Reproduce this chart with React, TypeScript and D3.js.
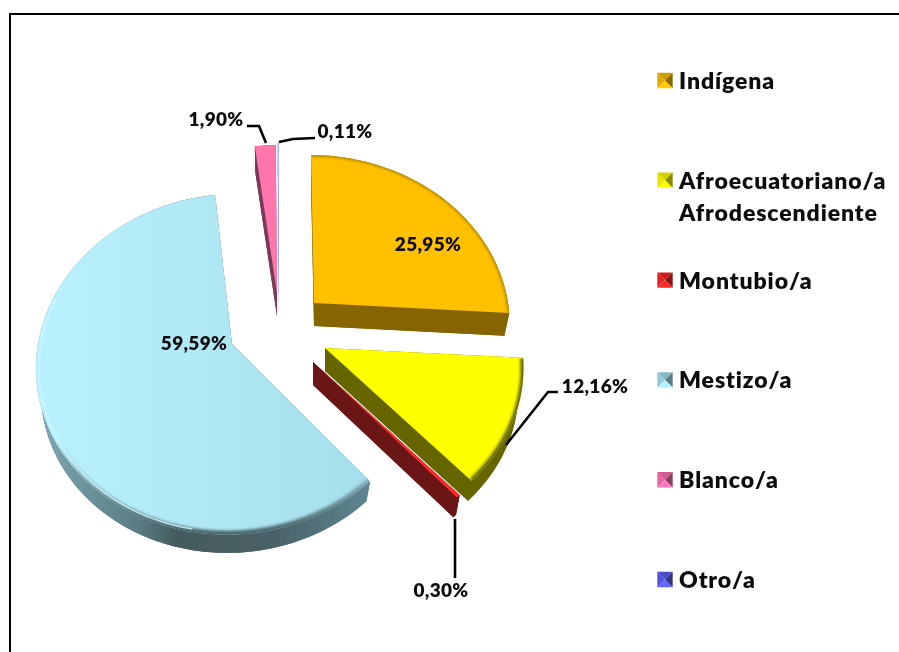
import React from "react";
import * as d3 from "d3";

const categories = ["Indígena", "Afroecuatoriano/a|Afrodescendiente", "Montubio/a", "Mestizo/a", "Blanco/a", "Otro/a"];
const shares = [25.95, 12.16, 0.3, 59.59, 1.9, 0.11];
const shareLabels = ["25,95%", "12,16%", "0,30%", "59,59%", "1,90%", "0,11%"];
const topColors = ["#ffc000", "#ffff00", "#ff2a2a", "#b2eaf7", "#ff74ac", "#b4b4ff"];
const wallColors = ["#866500", "#666600", "#6b1414", "#4c666c", "#7a3a58", "#6060a0"];
const keyColors = ["#d9a300", "#dddd00", "#d92020", "#8fc4cf", "#e0609a", "#5050d0"];

// exploded slice centres and per-slice perspective corrections (layout)
const centerX = [314, 325, 313, 232, 277, 279];
const centerY = [303, 348, 362, 344, 293, 290];
const xScale = [0.985, 1, 1, 0.985, 1, 1];
const yScale = [1, 1, 1, 1.015, 1, 1];
const lean = [3, 0, 0, -5, 0, 0];
const labelX = [428, 595, 441, 194, 216, 345];
const labelY = [251, 393, 597, 350, 126, 138];
const leaders: ([number, number][] | null)[] = [
  null,
  [[506, 445], [548, 392], [558, 392]],
  [[455, 519], [455, 578]],
  null,
  [[247, 126], [259, 126], [266, 143]],
  [[279, 142], [293, 139], [315, 138]],
];

const R = 197, TILT = 0.84, PERSP = 0.119, DEPTH = 23, BOTTOM_SCALE = 0.975;

const project = (i: number, a: number, r = R, dz = 0): [number, number] => {
  const u = Math.sin(a), v = -Math.cos(a);
  const s = 1 / (1 - PERSP * v);
  return [
    centerX[i] + r * xScale[i] * u * s + lean[i] * v,
    centerY[i] + r * yScale[i] * TILT * v * s + dz,
  ];
};

const pie = d3.pie<number>().sort(null).value((d) => d);
const arcs = pie(shares);
const lineGen = d3.line();
const closed = (pts: [number, number][]) => (lineGen(pts) ?? "") + "Z";
const angles = (a0: number, a1: number) => [...d3.range(a0, a1, Math.PI / 180), a1];

const legendY = d3.scalePoint<number>().domain(d3.range(categories.length)).range([80.5, 579.5]);

function Key({ i }: { i: number }) {
  const y = legendY(i)!;
  const s = 7.7, x = 665;
  const c = d3.color(keyColors[i])!;
  const faces: [string, [number, number][]][] = [
    [c.darker(0.15).formatHex(), [[x - s, y - s], [x + s, y - s], [x, y]]],
    [c.brighter(0.1).formatHex(), [[x - s, y - s], [x - s, y + s], [x, y]]],
    [c.darker(1.3).formatHex(), [[x + s, y - s], [x + s, y + s], [x, y]]],
    [c.brighter(0.6).formatHex(), [[x - s, y + s], [x + s, y + s], [x, y]]],
  ];
  return <g>{faces.map(([f, p], k) => <path key={k} d={closed(p)} fill={f} />)}</g>;
}

export default function App() {
  return (
    <svg width={899} height={652} style={{ position: "fixed", left: 0, top: 0, background: "#fff" }}>
      <defs>
        <filter id="soft" x="-5%" y="-5%" width="110%" height="110%"><feGaussianBlur stdDeviation="0.45" /></filter>
        <filter id="bevel" x="-10%" y="-10%" width="120%" height="120%"><feGaussianBlur stdDeviation="1.6" /></filter>
        <linearGradient id="mestizoTop" gradientUnits="userSpaceOnUse" x1="60" y1="350" x2="370" y2="350">
          <stop offset="0" stopColor="#b9f0fd" /><stop offset="1" stopColor="#a6deeb" />
        </linearGradient>
        <linearGradient id="mestizoWall" gradientUnits="userSpaceOnUse" x1="36" y1="0" x2="372" y2="0">
          <stop offset="0" stopColor="#7fa9b4" /><stop offset="0.3" stopColor="#5b7c84" />
          <stop offset="0.42" stopColor="#445a5e" /><stop offset="0.72" stopColor="#4a6268" /><stop offset="1" stopColor="#5f8794" />
        </linearGradient>
        <linearGradient id="mestizoBevel" gradientUnits="userSpaceOnUse" x1="0" y1="440" x2="0" y2="530">
          <stop offset="0" stopColor="#4c666c" stopOpacity="0" /><stop offset="1" stopColor="#4c666c" stopOpacity="1" />
        </linearGradient>
        {arcs.map((d, i) => {
          const rim = angles(d.startAngle, d.endAngle).map((a) => project(i, a));
          return <clipPath key={i} id={`top${i}`}><path d={closed([[centerX[i], centerY[i]], ...rim])} /></clipPath>;
        })}
      </defs>

      <g filter="url(#soft)">
        <path d="M10 652V14H899" fill="none" stroke="#000" strokeWidth={2} />
        {arcs.map((d, i) => {
          const as = angles(d.startAngle, d.endAngle);
          const topRim = as.map((a) => project(i, a));
          const botRim = as.map((a) => project(i, a, R * BOTTOM_SCALE, DEPTH));
          const apexT: [number, number] = [centerX[i], centerY[i]];
          const apexB: [number, number] = [centerX[i], centerY[i] + DEPTH];
          const wall = i === 3 ? "url(#mestizoWall)" : wallColors[i];
          const face = i === 3 ? "#4c666c" : wallColors[i];
          const a3 = as.filter((a) => a > 3.3 && a < 5.0);
          return (
            <g key={i}>
              <path d={closed([apexB, ...botRim])} fill={face} />
              <path d={closed([apexT, topRim[0], botRim[0], apexB])} fill={face} />
              <path d={closed([apexT, topRim[topRim.length - 1], botRim[botRim.length - 1], apexB])} fill={face} />
              <path d={closed([...topRim, ...[...botRim].reverse()])} fill={wall} />
              <path d={closed([apexT, ...topRim])} fill={i === 3 ? "url(#mestizoTop)" : topColors[i]} />
              <g clipPath={`url(#top${i})`}>
                {i === 3 ? (
                  <>
                    <path d={lineGen(topRim) ?? ""} fill="none" stroke="url(#mestizoBevel)" strokeWidth={8} filter="url(#bevel)" />
                    <path d={lineGen(a3.map((a) => project(i, a, R - 3))) ?? ""} fill="none" stroke="#d4f8ff" strokeWidth={1.5} opacity={0.8} />
                  </>
                ) : i < 2 ? (
                  <path d={lineGen(topRim) ?? ""} fill="none" stroke={wallColors[i]} strokeWidth={i === 1 ? 6 : 2} filter="url(#bevel)" />
                ) : null}
              </g>
            </g>
          );
        })}
        {leaders.map((l, i) => l && (
          <path key={i} d={lineGen(l) ?? ""} fill="none" stroke="#000" strokeWidth={2.6} />
        ))}
        {shareLabels.map((t, i) => (
          <text key={i} x={labelX[i]} y={labelY[i]} textAnchor="middle" fontFamily="Lato" fontWeight={800} fontSize={19} letterSpacing={0.3} fill="#111">{t}</text>
        ))}
        {categories.map((c, i) => (
          <g key={i}>
            <Key i={i} />
            {c.split("|").map((t, k) => (
              <text key={k} x={679} y={legendY(i)! + 8.5 + k * 32} fontFamily="Lato" fontWeight={800} fontSize={23} letterSpacing={0.9} fill="#111">{t}</text>
            ))}
          </g>
        ))}
      </g>
    </svg>
  );
}
